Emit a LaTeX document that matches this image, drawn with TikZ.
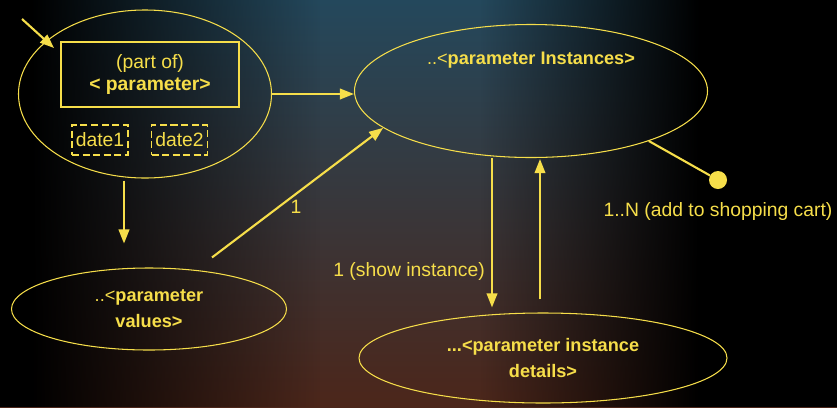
\documentclass[tikz,border=0pt]{standalone}
\usepackage{fontspec}
\setmainfont{Liberation Sans}
\usetikzlibrary{shapes,arrows.meta,positioning,calc,fadings}

\definecolor{uml}{RGB}{246,222,74}
\definecolor{bgteal}{RGB}{36,72,92}
\definecolor{bgmid}{RGB}{22,40,50}
\definecolor{bgbrown}{RGB}{76,38,26}

\tikzfading[name=fade right, left color=transparent!0, right color=transparent!100]
\tikzfading[name=fade left, left color=transparent!100, right color=transparent!0]

\begin{document}
\begin{tikzpicture}[x=0.03cm, y=-0.03cm]
    \tikzstyle{usecase} = [draw=uml, ellipse, line width=0.9pt, text=uml, align=center, font=\fontsize{15.5}{22}\selectfont\bfseries, inner sep=0pt]
    \tikzstyle{part} = [draw=uml, rectangle, line width=0.9pt, text=uml, align=center, minimum width=5.34cm, minimum height=1.95cm, font=\fontsize{16.5}{19}\selectfont]
    \tikzstyle{attr} = [draw=uml, rectangle, line width=1.5pt, dash pattern=on 6pt off 3pt, text=uml, minimum width=1.68cm, minimum height=0.9cm, inner sep=1pt, font=\fontsize{16.5}{20}\selectfont]
    \tikzstyle{flow} = [draw=uml, line width=1.8pt, -{Triangle[length=12pt, width=9pt]}]
    \tikzstyle{note} = [text=uml, font=\fontsize{16.5}{20}\selectfont]

    % dark slide background
    \fill[black] (0,0) rectangle (837,407);
    \shade[top color=bgteal, middle color=bgmid, bottom color=bgbrown] (0,0) rectangle (837,407);
    \fill[black] (0,0) rectangle (30,407);
    \fill[black, path fading=fade right] (30,0) rectangle (320,407);
    \fill[black, path fading=fade left] (480,0) rectangle (700,407);
    \fill[black] (700,0) rectangle (837,407);
    \useasboundingbox (0,0) rectangle (837,407);

    % use cases
    \node[usecase, minimum width=7.59cm, minimum height=5.04cm] (param) at (145,94) {};
    \node[part] (partof) at (150,74.5) {(part of)\\ \textbf{< parameter>}};
    \node[attr] (date1) at (100,140) {date1};
    \node[attr] (date2) at (179.5,140) {date2};

    \node[usecase, minimum width=10.59cm, minimum height=3.99cm] (inst) at (531,91) {};
    \node[usecase, draw=none] (instname) at (531,60) {{\mdseries..<}parameter Instances>};

    \node[usecase, minimum width=8.25cm, minimum height=2.46cm] (values) at (149,309) {{\mdseries..<}parameter\\values>};
    \node[usecase, minimum width=11.04cm, minimum height=2.7cm] (details) at (543,358) {...<parameter instance\\details>};

    \node[circle, fill=uml, minimum size=0.54cm, inner sep=0pt] (cart) at (718,180) {};

    % connectors
    \coordinate (entry) at (22,19);
    \draw[flow] (entry) -- (54,48);
    \draw[flow] (param.east) -- (param.east -| inst.west);
    \draw[flow] ($(param.south)+(-21,2)$) -- ++(0,63);
    \draw[flow] ($(values.north)+(63,-10)$) -- (inst.194);
    \node[note] (one) at (296,207) {1};
    \draw[flow] ($(inst.south)+(-39,0)$) -- ($(details.north)+(-51,-5)$);
    \draw[flow] ($(details.north)+(-3,-13)$) -- ($(inst.south)+(9,1)$);
    \node[note, anchor=east] (show) at (489,271) {1 (show instance)};
    \draw[uml, line width=1.8pt] (inst.337) -- (cart);
    \node[note] (cartlabel) at (718,211) {1..N (add to shopping cart)};
\end{tikzpicture}
\end{document}
